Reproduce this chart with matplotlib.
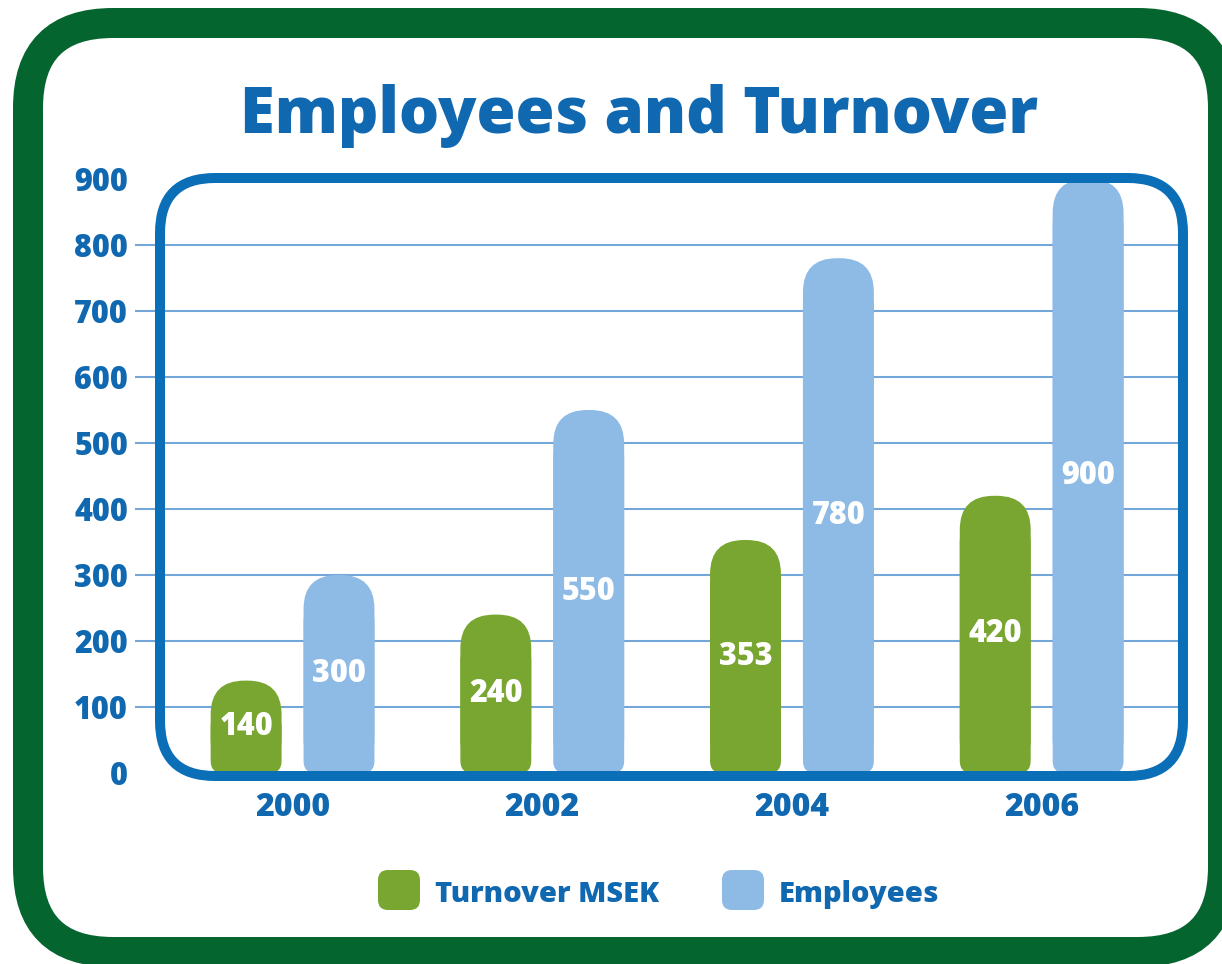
import numpy as np
import matplotlib
matplotlib.use('Agg')
import matplotlib.pyplot as plt
from matplotlib.patches import FancyBboxPatch

# chart data
years = ['2000', '2002', '2004', '2006']
turnover = [140, 240, 353, 420]
employees = [300, 550, 780, 900]
series_names = ['Turnover MSEK', 'Employees']
y_ticks = [0, 100, 200, 300, 400, 500, 600, 700, 800, 900]

GREEN = '#78a630'
LIGHT = '#8ebbe6'
BLUE = '#1068b0'
FRAME_GREEN = '#05652f'
FRAME_BLUE = '#0b6fb8'
GRID = '#74a7d9'

plt.rcParams['font.family'] = ['Open Sans', 'DejaVu Sans']
plt.rcParams['font.weight'] = 'heavy'

W, H = 1222, 964
fig = plt.figure(figsize=(W / 100, H / 100), dpi=100)

# background axes in pixel units, used for the frames and legend
bg = fig.add_axes([0, 0, 1, 1])
bg.set_xlim(0, W)
bg.set_ylim(H, 0)
bg.axis('off')
bg.add_patch(FancyBboxPatch((28, 23), 1195, 929,
                            boxstyle='round,pad=0,rounding_size=85',
                            lw=30 * 0.72, ec=FRAME_GREEN, fc='white'))

# plot area (pixels)
left, right, top, bottom = 135, 1180, 179, 773
ax = fig.add_axes([left / W, 1 - bottom / H, (right - left) / W, (bottom - top) / H])
ax.set_facecolor('none')
xlo, xhi = -0.631, 3.554
ax.set_xlim(xlo, xhi)
ax.set_ylim(0, 900)
for s in ax.spines.values():
    s.set_visible(False)

px_x = (right - left) / (xhi - xlo)
px_y = (bottom - top) / 900
aspect = px_x / px_y

x = np.arange(len(years))
width = 0.284
offset = 0.186


def rounded_bar(xc, h, color):
    r_top = 34 / px_x
    r_bot = 12 / px_x
    ax.add_patch(FancyBboxPatch((xc - width / 2, 0), width, h,
                                boxstyle=f'round,pad=0,rounding_size={r_top}',
                                mutation_aspect=aspect, fc=color, ec='none', zorder=2))
    hb = h - 34 / px_y
    ax.add_patch(FancyBboxPatch((xc - width / 2, 0), width, hb,
                                boxstyle=f'round,pad=0,rounding_size={r_bot}',
                                mutation_aspect=aspect, fc=color, ec='none', zorder=2))
    ax.text(xc, h / 2, str(h), ha='center', va='center', color='white',
            fontsize=22, zorder=3)


for xi, t, e in zip(x, turnover, employees):
    rounded_bar(xi - offset, t, GREEN)
    rounded_bar(xi + offset, e, LIGHT)

ax.set_yticks(y_ticks)
ax.set_yticklabels([str(v) for v in y_ticks])
ax.set_xticks(x)
ax.set_xticklabels(years)
ax.tick_params(axis='y', length=0, pad=5, labelsize=22, labelcolor=BLUE)
ax.tick_params(axis='x', length=0, pad=14, labelsize=23, labelcolor=BLUE)
# grid lines only between 0 and 900 (those two sit under the frame)
for v in y_ticks[1:-1]:
    ax.axhline(v, color=GRID, lw=1.5, zorder=1)

# inner blue rounded frame on top of the bars
ax.add_patch(FancyBboxPatch((160, 178), 1023, 598,
                            boxstyle='round,pad=0,rounding_size=55',
                            lw=10 * 0.72, ec=FRAME_BLUE, fc='none',
                            transform=bg.transData, clip_on=False, zorder=6))

fig.text(639 / W, 1 - 133 / H, 'Employees and Turnover', ha='center', va='baseline',
         fontsize=45.5, color=BLUE)

# legend
for name, color, lx in zip(series_names, [GREEN, LIGHT], [378, 722]):
    bg.add_patch(FancyBboxPatch((lx, 870), 42, 40,
                                boxstyle='round,pad=0,rounding_size=10',
                                fc=color, ec='none'))
    bg.text(lx + 57, 902, name, ha='left', va='baseline', fontsize=21,
            color=BLUE)

fig.savefig('out.png', dpi=100)
